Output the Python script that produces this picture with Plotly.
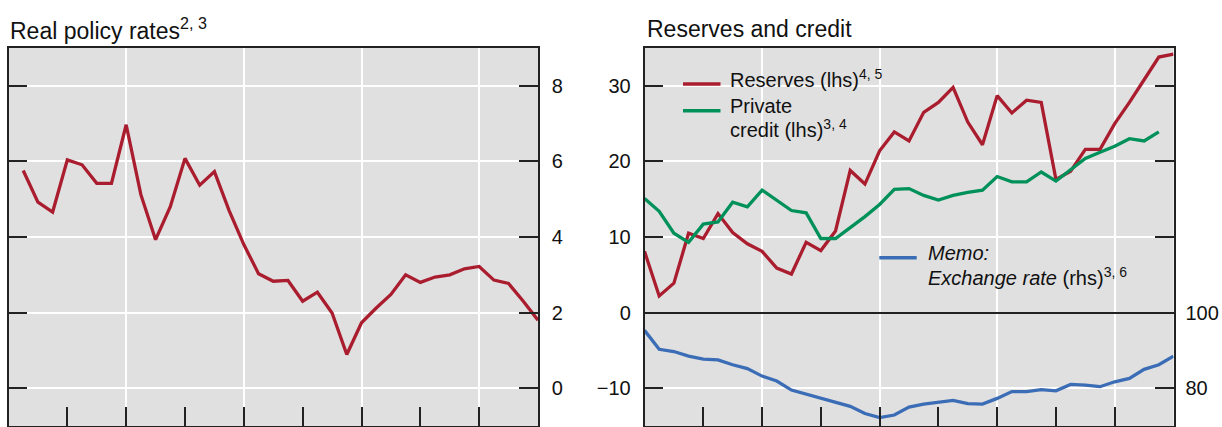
import plotly.graph_objects as go

# ---------------- data (quarterly) ----------------
# x positions are quarter indices; axis ticks every 4 quarters (one year)
q_left = list(range(1, 37))
real_policy_rate = [5.76, 4.92, 4.66, 6.04, 5.91, 5.42, 5.42, 6.97, 5.12, 3.93,
                    4.80, 6.08, 5.37, 5.73, 4.70, 3.80, 3.03, 2.83, 2.85, 2.30,
                    2.54, 1.99, 0.89, 1.73, 2.12, 2.48, 3.00, 2.80, 2.94, 3.00,
                    3.16, 3.22, 2.86, 2.77, 2.30, 1.80]

q_right = list(range(0, 37))
reserves = [8.1, 2.2, 3.9, 10.5, 9.8, 13.1, 10.6, 9.1, 8.1, 5.9,
            5.1, 9.3, 8.2, 10.8, 18.8, 17.0, 21.4, 23.9, 22.7, 26.5,
            27.8, 29.8, 25.2, 22.2, 28.7, 26.4, 28.1, 27.8, 17.6, 18.7,
            21.6, 21.6, 25.0, 27.8, 30.8, 33.8, 34.2]
q_credit = list(range(0, 36))
private_credit = [15.1, 13.4, 10.5, 9.3, 11.7, 12.0, 14.6, 14.0, 16.2, 14.8,
                  13.5, 13.2, 9.8, 9.8, 11.2, 12.7, 14.3, 16.3, 16.4, 15.5,
                  14.9, 15.5, 15.9, 16.2, 18.0, 17.3, 17.3, 18.6, 17.4, 18.9,
                  20.4, 21.2, 22.0, 23.0, 22.7, 23.9]
exchange_rate = [95.3, 90.3, 89.7, 88.5, 87.7, 87.5, 86.2, 85.2, 83.2, 81.9,
                 79.5, 78.4, 77.3, 76.2, 75.2, 73.3, 72.2, 72.9, 75.0, 75.8,
                 76.2, 76.8, 75.9, 75.8, 77.3, 79.1, 79.1, 79.6, 79.3, 81.0,
                 80.8, 80.4, 81.7, 82.6, 85.0, 86.2, 88.5]

left_yticks = [0, 2, 4, 6, 8]
right_yticks = [-10, 0, 10, 20, 30]
rhs_ticks = [80, 100]
major_x = [8, 16, 24, 32]
minor_x = [4, 12, 20, 28]

RED = "#aa1d2f"
GREEN = "#00915b"
BLUE = "#3b6db6"
DARK = "#222222"
BG = "#e0e0e0"
FONT = "Liberation Sans, Arial, sans-serif"

W, H = 1222, 427
MT, MB = 48, 1
PH = H - MT - MB


def px(x):
    return x / W


def py(y):
    return 1 - (y - MT) / PH


fig = go.Figure()
fig.add_trace(go.Scatter(x=q_left, y=real_policy_rate, mode="lines",
                         line=dict(color=RED, width=3.3), xaxis="x", yaxis="y",
                         showlegend=False))
fig.add_trace(go.Scatter(x=q_right, y=reserves, mode="lines",
                         line=dict(color=RED, width=3.3), xaxis="x2", yaxis="y2",
                         showlegend=False))
fig.add_trace(go.Scatter(x=q_credit, y=private_credit, mode="lines",
                         line=dict(color=GREEN, width=3.3), xaxis="x2", yaxis="y2",
                         showlegend=False))
fig.add_trace(go.Scatter(x=q_right, y=exchange_rate, mode="lines",
                         line=dict(color=BLUE, width=3.3), xaxis="x2", yaxis="y3",
                         showlegend=False))

xcommon = dict(range=[0, 36], tickvals=major_x, showticklabels=False,
               ticks="inside", ticklen=19, tickwidth=1.5, tickcolor=DARK,
               showgrid=True, gridcolor="white", gridwidth=1.5,
               showline=True, linecolor=DARK, linewidth=1.5, mirror=True,
               zeroline=False,
               minor=dict(tickvals=minor_x, ticks="inside", ticklen=19,
                          tickwidth=1.5, tickcolor=DARK, showgrid=False))

fig.update_layout(
    width=W, height=H,
    margin=dict(l=0, r=0, t=MT, b=MB),
    paper_bgcolor="white", plot_bgcolor=BG,
    font=dict(family=FONT, size=20, color="#111111"),
    xaxis=dict(domain=[px(8.5), px(538)], anchor="y", **xcommon),
    xaxis2=dict(domain=[px(644.5), px(1173.5)], anchor="y2", **xcommon),
    yaxis=dict(anchor="x", side="right", range=[-1, 9], tickvals=left_yticks,
               ticks="inside", ticklen=19, tickwidth=1.5, tickcolor=DARK,
               showline=True, linecolor=DARK, linewidth=1.5, mirror="ticks",
               showgrid=True, gridcolor="white", gridwidth=1.5, zeroline=False,
               tickfont=dict(size=20), ticklabelstandoff=8),
    yaxis2=dict(anchor="x2", side="left", range=[-15, 35], tickvals=right_yticks,
                ticktext=["\u221210", "0", "10", "20", "30"],
                ticks="inside", ticklen=19, tickwidth=1.5, tickcolor=DARK,
                showline=True, linecolor=DARK, linewidth=1.5, mirror="ticks",
                showgrid=True, gridcolor="white", gridwidth=1.5,
                zeroline=True, zerolinecolor=DARK, zerolinewidth=1.8,
                tickfont=dict(size=20), ticklabelstandoff=8),
    yaxis3=dict(overlaying="y2", anchor="x2", side="right", range=[70, 170],
                tickvals=rhs_ticks, ticks="", showgrid=False, showline=False,
                zeroline=False, tickfont=dict(size=20), ticklabelstandoff=11),
)

# titles
fig.add_annotation(text="Real policy rates<sup>2, 3</sup>", xref="paper", yref="paper",
                   x=px(8), y=py(29), xanchor="left", yanchor="middle",
                   showarrow=False, font=dict(size=23))
fig.add_annotation(text="Reserves and credit", xref="paper", yref="paper",
                   x=px(645), y=py(29), xanchor="left", yanchor="middle",
                   showarrow=False, font=dict(size=23))

# legend keys (decoration)
legend_items = [
    (RED, 84, [("Reserves (lhs)<sup>4, 5</sup>", 79)], 683, 720.5, 728),
    (GREEN, 110.7, [("Private", 106), ("credit (lhs)<sup>3, 4</sup>", 128)], 683, 720.5, 728),
    (BLUE, 257.7, [("<i>Memo:</i>", 253.5), ("<i>Exchange rate</i> (rhs)<sup>3, 6</sup>", 276.5)],
     879.3, 916.7, 926),
]
for color, ly, texts, x0, x1, tx in legend_items:
    fig.add_shape(type="line", xref="paper", yref="paper", x0=px(x0), x1=px(x1),
                  y0=py(ly), y1=py(ly), line=dict(color=color, width=3.5))
    for t, ty in texts:
        fig.add_annotation(text=t, xref="paper", yref="paper", x=px(tx), y=py(ty),
                           xanchor="left", yanchor="middle", showarrow=False,
                           font=dict(size=20))

fig.write_html("out.html", config={"displayModeBar": False},
               post_script="document.body.style.margin='0';document.body.style.overflow='hidden';")
